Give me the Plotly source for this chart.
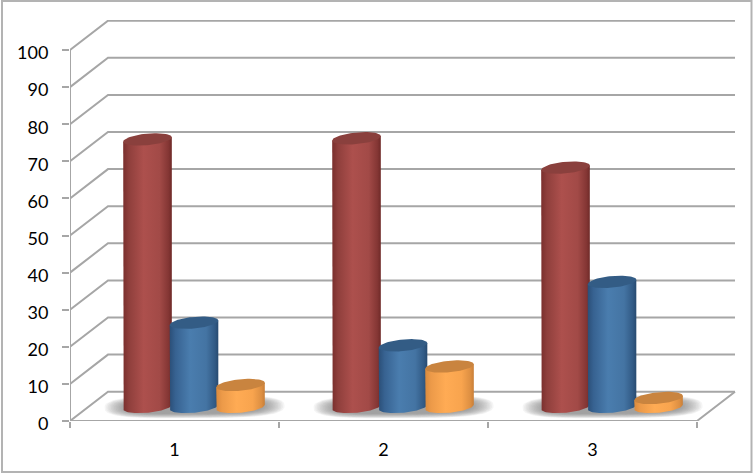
import numpy as np
import plotly.graph_objects as go

categories = [1, 2, 3]
red_values = [72.1, 72.4, 64.5]
blue_values = [22.7, 16.6, 33.7]
orange_values = [5.9, 10.9, 2.4]
y_ticks = list(range(0, 101, 10))

W, H = 753, 473
L, R, T, B = 70, 738, 20, 421
PX_X = 209.0
PX_Y = 3.71
x0 = 0.5
xmax = x0 + (R - L) / PX_X
ymax = (B - T) / PX_Y
DX = 38 / PX_X
DY = 29.3 / PX_Y
GRID = "#a6a6a6"

a = 24.3 / PX_X
b = 5.8 / PX_Y
tilt = 2.2 / PX_Y
step = 46.5 / PX_X
nudge = 0.5 / PX_X
sink = 0.55 / PX_Y

RED = dict(top="#8a403d", scale=[[0, "#7a2f2d"], [0.12, "#8f3f3c"], [0.42, "#ad504d"], [0.75, "#a24a47"], [0.93, "#843634"], [1, "#6f2a28"]])
BLUE = dict(top="#335c85", scale=[[0, "#2b4f78"], [0.12, "#376291"], [0.42, "#4a7dae"], [0.75, "#4474a3"], [0.93, "#315a85"], [1, "#274a70"]])
ORANGE = dict(top="#c9843f", scale=[[0, "#d98a3e"], [0.12, "#ec9a49"], [0.42, "#ffab54"], [0.75, "#f8a44e"], [0.93, "#dd8f42"], [1, "#c97f38"]])
STYLES = [RED, BLUE, ORANGE]
SERIES = [red_values, blue_values, orange_values]

fig = go.Figure()


def poly(x, y, **kw):
    fig.add_trace(go.Scatter(x=x, y=y, mode="lines", line=dict(width=0), fill="toself",
                             hoverinfo="skip", showlegend=False, cliponaxis=False, **kw))


def line(x, y):
    fig.add_trace(go.Scatter(x=x, y=y, mode="lines", line=dict(color=GRID, width=2),
                             hoverinfo="skip", showlegend=False, cliponaxis=False))


# walls and floor
for v in y_ticks:
    line([x0, x0 + DX, 3.5 + DX], [v, v + DY, v + DY])
line([x0, x0], [0, 100])
line([x0, 3.5, 3.5 + DX], [0, 0, DY])

# soft shadows on the floor
t = np.linspace(0, 2 * np.pi, 120)
for c in categories:
    cx, cy = c + DX / 2 + 0.005, DY / 2 - 0.1
    for j in range(14):
        sx = (90 - j * 1.6) / PX_X
        sy = (11.5 - j * 0.35) / PX_Y
        xs = cx + sx * np.sign(np.cos(t)) * np.abs(np.cos(t)) ** 0.55
        ys = cy + sy * np.sign(np.sin(t)) * np.abs(np.sin(t)) ** 0.75 + 1.0 / PX_Y * np.cos(t)
        poly(xs, ys, fillcolor="rgba(110,110,110,0.07)")

# cylinders
for c, cat in enumerate(categories):
    for s, (vals, st) in enumerate(zip(SERIES, STYLES)):
        cx = cat + (s - 1) * step + DX / 2 + nudge
        base = DY / 2 - sink
        top = base + vals[c]
        ang = np.linspace(np.pi, 2 * np.pi, 50)
        bx = cx + a * np.cos(ang)
        by = base + b * np.sin(ang) + tilt * np.cos(ang)
        bodyx = np.concatenate([[cx - a], bx, [cx + a]])
        bodyy = np.concatenate([[top - tilt], by, [top + tilt]])
        poly(bodyx, bodyy, fillgradient=dict(type="horizontal", colorscale=st["scale"]))
        ell = np.linspace(0, 2 * np.pi, 80)
        poly(cx + a * np.cos(ell), top + b * np.sin(ell) + tilt * np.cos(ell), fillcolor=st["top"])

font = dict(family="Lato", size=18, color="#000000")
fig.update_layout(
    width=W, height=H, autosize=False,
    margin=dict(l=L, r=W - R, t=T, b=H - B, pad=0),
    paper_bgcolor="white", plot_bgcolor="white", showlegend=False,
    shapes=[dict(type="rect", xref="paper", yref="paper",
                 x0=(2 - L) / (R - L), x1=(751.5 - L) / (R - L),
                 y0=(B - 472) / (B - T), y1=(B - 1) / (B - T),
                 line=dict(color="#b3b3b3", width=2), layer="below")],
    xaxis=dict(range=[x0, xmax], tickvals=categories, ticktext=[str(c) for c in categories],
               showgrid=False, zeroline=False, showline=False, ticks="", tickfont=font,
               ticklabelstandoff=16, fixedrange=True,
               minor=dict(tickvals=[0.5, 1.5, 2.5, 3.5], ticks="outside", ticklen=6, tickwidth=2,
                          tickcolor=GRID, showgrid=False)),
    yaxis=dict(range=[0, ymax], tickvals=y_ticks, showgrid=False, zeroline=False, showline=False,
               ticks="outside", ticklen=7, tickwidth=2, tickcolor=GRID, tickfont=font,
               ticklabelstandoff=10, ticklabelshift=3, fixedrange=True),
)

fig.write_html("out.html", config=dict(displayModeBar=False),
               post_script="document.body.style.margin='0';document.body.style.overflow='hidden';")
